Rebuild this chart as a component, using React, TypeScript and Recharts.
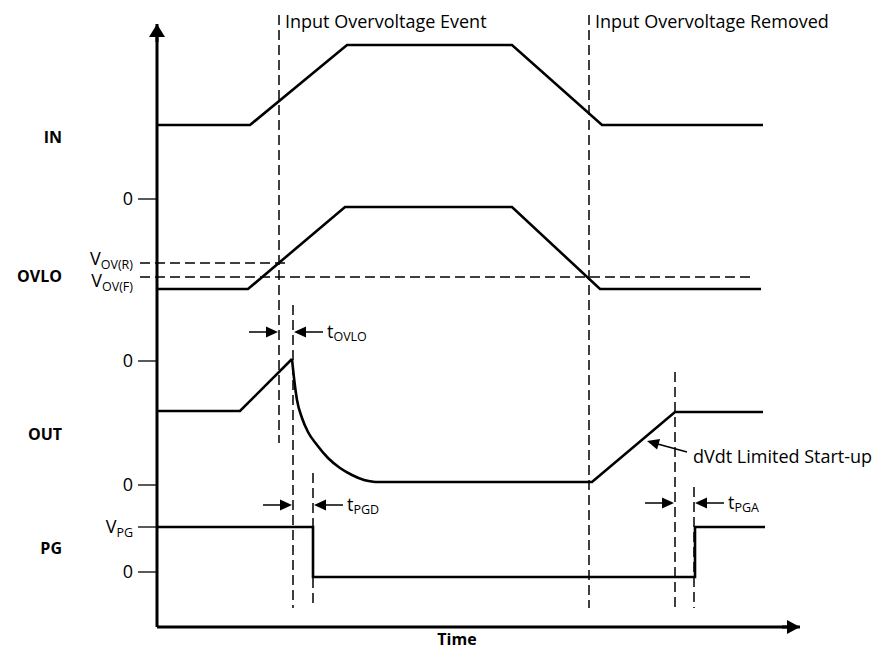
import React from 'react';
import { LineChart, Line, XAxis, YAxis, ReferenceLine } from 'recharts';

// time runs 0..643 along the x axis, level runs 0..603 up the y axis
const inTrace = [
  { t: 0, v: 502 }, { t: 93, v: 502 }, { t: 190, v: 582 },
  { t: 355, v: 582 }, { t: 445, v: 502 }, { t: 606, v: 502 },
];
const ovloTrace = [
  { t: 0, v: 338 }, { t: 91, v: 338 }, { t: 188, v: 420 },
  { t: 355, v: 420 }, { t: 443, v: 338 }, { t: 604, v: 338 },
];
const outRise = [{ t: 0, v: 216 }, { t: 83, v: 216 }, { t: 135, v: 268 }];
const outDecay = [
  { t: 135, v: 268 }, { t: 137, v: 249 }, { t: 140, v: 227 }, { t: 145, v: 209 },
  { t: 151, v: 195 }, { t: 160, v: 182 }, { t: 171, v: 169 }, { t: 183, v: 159 },
  { t: 195, v: 152 }, { t: 207, v: 147 }, { t: 218, v: 145 },
];
const outRestart = [{ t: 218, v: 145 }, { t: 435, v: 145 }, { t: 518, v: 215 }, { t: 606, v: 215 }];
const pgTrace = [
  { t: 0, v: 100 }, { t: 156, v: 100 }, { t: 156, v: 50 },
  { t: 538, v: 50 }, { t: 538, v: 100 }, { t: 608, v: 100 },
];

const levelTicks = [428, 364, 350, 266, 142, 100, 55];
const levelNames = ['0', 'V', 'V', '0', '0', 'V', '0'];
const levelSubs = ['', 'OV(R)', 'OV(F)', '', '', 'PG', ''];
const levelHasMark = [true, false, false, true, true, true, true];
const levelNudge = [0, -4, 4, 0, 0, 0, 0];

const rowTicks = [490, 351.5, 193, 79];
const rowNames = ['IN', 'OVLO', 'OUT', 'PG'];

const thresholdLevels = [364, 350];
const thresholdFrom = [-17, -17];
const thresholdTo = [133, 598];

const markerTimes = [122, 432, 136, 156, 518, 537];
const markerTops = [612, 612, 322, 154, 255, 140];
const markerBottoms = [184, 19, 19, 19, 19, 19];
const markerTexts = ['Input Overvoltage Event', 'Input Overvoltage Removed', '', '', '', ''];

const delayNames = ['OVLO', 'PGD', 'PGA'];
const delayLevels = [295, 122, 124];
const delayStart = [122, 136, 518];
const delayEnd = [136, 156, 537];

const FONT = "'Open Sans', sans-serif";
const SHAFT = 29;
const DASH = '10 5';

const Arrow = (props: any) => {
  const { x1, y1, x2, y2, head = 12, half = 5.5, width = 1.5 } = props;
  const dx = x2 - x1;
  const dy = y2 - y1;
  const len = Math.hypot(dx, dy) || 1;
  const ux = dx / len;
  const uy = dy / len;
  const bx = x2 - ux * head;
  const by = y2 - uy * head;
  const pts = `${x2},${y2} ${bx - uy * half},${by + ux * half} ${bx + uy * half},${by - ux * half}`;
  return (
    <g>
      <line x1={x1} y1={y1} x2={bx + ux} y2={by + uy} stroke="#000" strokeWidth={width} />
      <polygon points={pts} fill="#000" />
    </g>
  );
};

// level ticks next to the axis, signal names further left
const AxisTick = ({ x, y, payload }: any) => {
  const r = rowTicks.indexOf(payload.value);
  if (r >= 0) {
    return (
      <text x={54} y={y + 6} textAnchor="end" fontFamily={FONT} fontSize={16} fontWeight={700} fill="#000">
        {rowNames[r]}
      </text>
    );
  }
  const i = levelTicks.indexOf(payload.value);
  return (
    <g>
      {levelHasMark[i] && <line x1={x - 19} y1={y} x2={x} y2={y} stroke="#000" strokeWidth={1.3} />}
      <text x={x - 24} y={y + 6 + levelNudge[i]} textAnchor="end" fontFamily={FONT} fontSize={18} fill="#000">
        {levelNames[i]}
        {levelSubs[i] && <tspan fontSize={12.5} dy={4}>{levelSubs[i]}</tspan>}
      </text>
    </g>
  );
};

const subLabel = (main: string, sub: string) => (p: any) => {
  const vb = p.viewBox;
  return (
    <text x={vb.x + vb.width + 4} y={vb.y + 6} fontFamily={FONT} fontSize={18} fill="#000">
      {main}
      <tspan fontSize={12.5} dy={3}>{sub}</tspan>
    </text>
  );
};

const App = () => {
  return (
    <LineChart width={875} height={642} margin={{ top: 16, right: 83, bottom: 0, left: 0 }}>
      <XAxis
        dataKey="t"
        type="number"
        domain={[0, 643]}
        allowDataOverflow
        tick={false}
        tickLine={false}
        axisLine={{ stroke: '#000', strokeWidth: 3 }}
        height={23}
        label={(p: any) => (
          <text x={p.viewBox.x + 300} y={p.viewBox.y + 18} textAnchor="middle" fontFamily={FONT} fontSize={16} fontWeight={700} fill="#000">
            Time
          </text>
        )}
      />
      <YAxis
        yAxisId="v"
        type="number"
        domain={[0, 603]}
        allowDataOverflow
        ticks={[...levelTicks, ...rowTicks]}
        interval={0}
        tick={<AxisTick />}
        tickLine={false}
        tickSize={0}
        tickMargin={0}
        axisLine={{ stroke: '#000', strokeWidth: 3 }}
        width={149}
      />

      {thresholdLevels.map((lv, i) => (
        <ReferenceLine
          key={`th${i}`}
          yAxisId="v"
          ifOverflow="visible"
          segment={[{ x: thresholdFrom[i], y: lv }, { x: thresholdTo[i], y: lv }]}
          stroke="#000"
          strokeWidth={1.5}
          strokeDasharray={DASH}
        />
      ))}

      {markerTimes.map((t, i) => (
        <ReferenceLine
          key={`mk${i}`}
          yAxisId="v"
          ifOverflow="visible"
          segment={[{ x: t, y: markerTops[i] }, { x: t, y: markerBottoms[i] }]}
          stroke="#000"
          strokeWidth={1.5}
          strokeDasharray={DASH}
          label={
            markerTexts[i]
              ? (p: any) => (
                  <text x={p.viewBox.x + 6} y={p.viewBox.y + 13} fontFamily={FONT} fontSize={18} fill="#000">
                    {markerTexts[i]}
                  </text>
                )
              : undefined
          }
        />
      ))}

      <Line yAxisId="v" data={inTrace} dataKey="v" type="linear" stroke="#000" strokeWidth={2.6} dot={false} isAnimationActive={false} />
      <Line yAxisId="v" data={ovloTrace} dataKey="v" type="linear" stroke="#000" strokeWidth={2.6} dot={false} isAnimationActive={false} />
      <Line yAxisId="v" data={outRise} dataKey="v" type="linear" stroke="#000" strokeWidth={2.6} dot={false} isAnimationActive={false} />
      <Line yAxisId="v" data={outDecay} dataKey="v" type="monotone" stroke="#000" strokeWidth={2.6} dot={false} isAnimationActive={false} />
      <Line yAxisId="v" data={outRestart} dataKey="v" type="linear" stroke="#000" strokeWidth={2.6} dot={false} isAnimationActive={false} />
      <Line yAxisId="v" data={pgTrace} dataKey="v" type="linear" stroke="#000" strokeWidth={2.6} dot={false} isAnimationActive={false} />

      {delayNames.map((name, i) => (
        <ReferenceLine
          key={`dl${i}`}
          yAxisId="v"
          ifOverflow="visible"
          segment={[{ x: delayStart[i] - SHAFT - 1, y: delayLevels[i] }, { x: delayStart[i] - 1, y: delayLevels[i] }]}
          shape={(p: any) => <Arrow {...p} />}
        />
      ))}
      {delayNames.map((name, i) => (
        <ReferenceLine
          key={`dr${i}`}
          yAxisId="v"
          ifOverflow="visible"
          segment={[{ x: delayEnd[i] + SHAFT + 1, y: delayLevels[i] }, { x: delayEnd[i] + 1, y: delayLevels[i] }]}
          shape={(p: any) => <Arrow {...p} />}
          label={subLabel('t', name)}
        />
      ))}

      <ReferenceLine
        yAxisId="v"
        ifOverflow="visible"
        segment={[{ x: 530, y: 175 }, { x: 490, y: 186 }]}
        shape={(p: any) => <Arrow {...p} />}
        label={(p: any) => (
          <text x={p.viewBox.x + 46} y={p.viewBox.y + 22} fontFamily={FONT} fontSize={18} fill="#000">
            dVdt Limited Start-up
          </text>
        )}
      />

      <ReferenceLine
        yAxisId="v"
        ifOverflow="visible"
        segment={[{ x: 0, y: 585 }, { x: 0, y: 603 }]}
        shape={(p: any) => <Arrow {...p} head={13} half={8} width={3} />}
      />
      <ReferenceLine
        yAxisId="v"
        ifOverflow="visible"
        segment={[{ x: 625, y: 0 }, { x: 643, y: 0 }]}
        shape={(p: any) => <Arrow {...p} head={13} half={7} width={3} />}
      />
    </LineChart>
  );
};

export default App;
